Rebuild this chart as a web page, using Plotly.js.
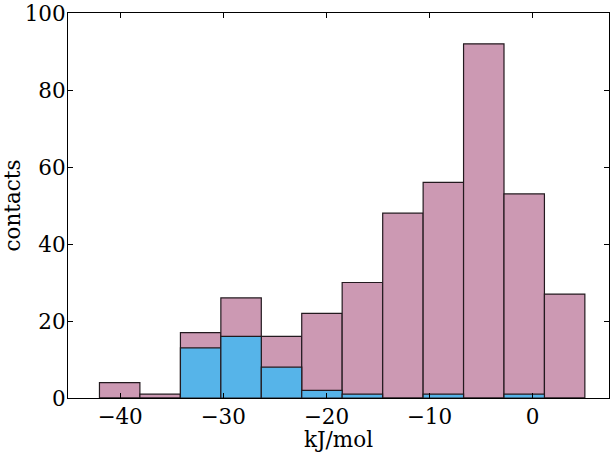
<!DOCTYPE html>
<html>
<head>
<meta charset="utf-8">
<script src="https://cdn.plot.ly/plotly-3.0.1.min.js"></script>
<style>html,body{margin:0;padding:0;background:#fff;}#chart{width:612px;height:452px;}</style>
</head>
<body>
<div id="chart"></div>
<script>
// Histogram bin centres (kJ/mol) and bin width
const binCenters = [-40.04, -36.12, -32.19, -28.27, -24.35, -20.43, -16.51, -12.58, -8.66, -4.74, -0.82, 3.10];
const binWidth = 3.92;
// Total contacts per bin (pink)
const allContacts = [4, 1, 17, 26, 16, 22, 30, 48, 56, 92, 53, 27];
// Subset contacts per bin (blue)
const subsetContacts = [0, 0, 13, 16, 8, 2, 1, 0, 1, 0, 1, 0];
const xTicks = [-40, -30, -20, -10, 0];
const xTickLabels = ['\u221240', '\u221230', '\u221220', '\u221210', '0'];
const yTicks = [0, 20, 40, 60, 80, 100];

const widths = binCenters.map(() => binWidth);
const traces = [
  {type: 'bar', x: binCenters, y: allContacts, width: widths,
   marker: {color: '#cc99b3', line: {color: '#231a1f', width: 1.2}}, hoverinfo: 'x+y'},
  {type: 'bar', x: binCenters, y: subsetContacts, width: widths,
   marker: {color: '#56b4e9', line: {color: '#231a1f', width: 1.2}}, hoverinfo: 'x+y'}
];
const font = {family: 'DejaVu Serif, serif', size: 21.5, color: '#000'};
const layout = {
  width: 612, height: 452,
  margin: {l: 68, r: 3, t: 13, b: 54},
  paper_bgcolor: '#fff', plot_bgcolor: '#fff',
  barmode: 'overlay', showlegend: false,
  font: font,
  xaxis: {range: [-45.05, 7.4], tickvals: xTicks, ticktext: xTickLabels,
    ticks: 'inside', ticklen: 5, tickcolor: '#000', tickwidth: 1,
    showline: true, linecolor: '#000', linewidth: 1, mirror: 'ticks',
    showgrid: false, zeroline: false, tickfont: font, ticklabelstandoff: -1,
    title: {text: 'kJ/mol', font: font, standoff: 4}},
  yaxis: {range: [0, 100], tickvals: yTicks,
    ticks: 'inside', ticklen: 5, tickcolor: '#000', tickwidth: 1,
    showline: true, linecolor: '#000', linewidth: 1, mirror: 'ticks',
    showgrid: false, zeroline: false, tickfont: font, ticklabelstandoff: -3,
    title: {text: 'contacts', font: font, standoff: 6}}
};
Plotly.newPlot('chart', traces, layout, {displayModeBar: false, staticPlot: true});
</script>
</body>
</html>
